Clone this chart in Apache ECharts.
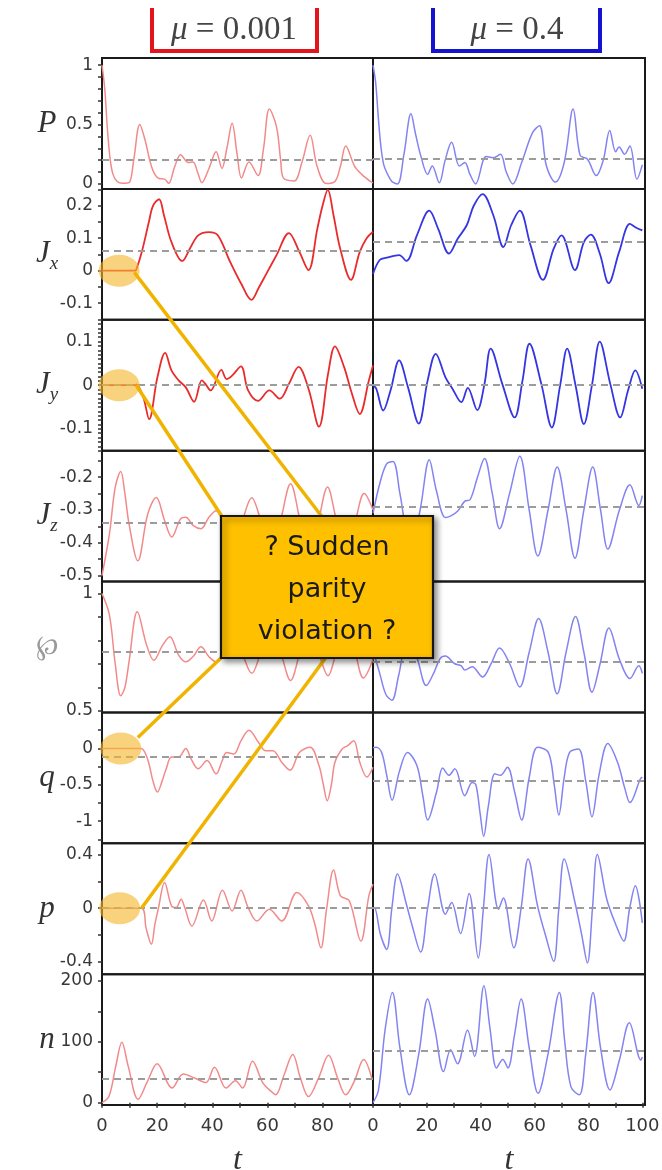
<!DOCTYPE html>
<html><head><meta charset="utf-8">
<script src="https://cdn.jsdelivr.net/npm/echarts@6/dist/echarts.min.js"></script>
<style>html,body{margin:0;padding:0;background:#fff}#c{width:662px;height:1170px}</style>
</head><body><div id="c"></div>
<script>
// ---------- DATA ----------
const panelTitles = ['0.001', '0.4'];
const rowKeys = ['P', 'Jx', 'Jy', 'Jz', 'wp', 'q', 'p', 'n'];
const tMax = [98.3, 101];
const xLabelsLeft = [0, 20, 40, 60, 80];
const xLabelsRight = [0, 20, 40, 60, 80, 100];
const xTicksLeft = [0, 10, 20, 30, 40, 50, 60, 70, 80, 90];
const xTicksRight = [0, 10, 20, 30, 40, 50, 60, 70, 80, 90, 100];

const yRanges = [[-0.042, 1.06], [-0.151, 0.252], [-0.15, 0.15], [-0.518, -0.119],
                 [0.494, 1.051], [-1.304, 0.495], [-0.496, 0.489], [-3.8, 211]];
const yLabelValues = [[0, 0.5, 1], [-0.1, 0, 0.1, 0.2], [-0.1, 0, 0.1], [-0.5, -0.4, -0.3, -0.2],
                      [0.5, 1], [-1, -0.5, 0], [-0.4, 0, 0.4], [0, 100, 200]];
const yTickValues = [
  [0, 0.1, 0.2, 0.3, 0.4, 0.5, 0.6, 0.7, 0.8, 0.9, 1],
  [-0.15, -0.1, -0.05, 0, 0.05, 0.1, 0.15, 0.2, 0.25],
  [-0.15,-0.14,-0.13,-0.12,-0.11,-0.1,-0.09,-0.08,-0.07,-0.06,-0.05,-0.04,-0.03,-0.02,-0.01,0,
   0.01,0.02,0.03,0.04,0.05,0.06,0.07,0.08,0.09,0.1,0.11,0.12,0.13,0.14,0.15],
  [-0.5, -0.45, -0.4, -0.35, -0.3, -0.25, -0.2, -0.15],
  [0.5, 0.6, 0.7, 0.8, 0.9, 1],
  [-1.25, -1, -0.75, -0.5, -0.25, 0, 0.25],
  [-0.4, -0.2, 0, 0.2, 0.4],
  [0, 50, 100, 150, 200]
];

const means_mu0001 = [0.195, 0.056, 0, -0.34, 0.754, -0.114, 0, 39];
const means_mu04   = [0.214, 0.094, 0, -0.287, 0.709, -0.44, 0, 86];

const P_mu0001 = [[0,1],[1,0.8],[2,0.45],[3,0.2],[4,0.08],[5.5,0.02],[7.5,0.005],[9.8,0.01],[11.5,0.2],[13.7,0.5],[15.5,0.38],[18.2,0.13],[20.7,0.045],[22.7,0.04],[24.2,0.005],[26.3,0.14],[28.5,0.245],[31.3,0.18],[33,0.185],[34.8,0.09],[36.2,0.01],[38.8,0.13],[41.4,0.27],[43.5,0.13],[45.3,0.3],[47.2,0.51],[49,0.25],[50.6,0.05],[53.3,0.185],[56.6,0.07],[58.6,0.3],[60.7,0.63],[63.3,0.48],[64.8,0.2],[65.8,0.05],[69.7,0.025],[72.5,0.18],[75.5,0.41],[78,0.15],[81.3,0.003],[84.5,0.02],[86.5,0.15],[88.4,0.32],[91.6,0.15],[94.2,0.08],[97.4,0.02],[98.3,0.01]];
const P_mu04 = [[0,1],[1,0.85],[2,0.55],[3,0.3],[4,0.16],[5.1,0.096],[7,0.02],[9.1,0],[11.5,0.25],[14.1,0.59],[15.8,0.42],[17.7,0.24],[20.3,0.08],[22,0.15],[24.6,0.01],[26.8,0.2],[29.2,0.35],[32.1,0.15],[34.1,0.18],[36,0.08],[38.1,0],[42,0.23],[44.7,0.22],[47.3,0.25],[49.5,0.1],[51.9,0],[55.2,0.18],[59.2,0.43],[61.8,0.49],[64.4,0.15],[67.7,0.015],[71,0.18],[74.3,0.63],[76.9,0.24],[79.6,0.21],[82.9,0.07],[85.5,0.2],[87.9,0.45],[90.1,0.27],[91.4,0.31],[93.4,0.25],[95.4,0.32],[98,0.04],[100,0.16]];

const Jx_mu0001 = [[0,0],[12,0],[12.5,0.005],[14.5,0.06],[17,0.15],[18.5,0.2],[20.7,0.22],[22.5,0.17],[25.2,0.088],[29.1,0.03],[32,0.07],[34.9,0.109],[38.8,0.119],[42,0.109],[46.5,0.027],[50.5,-0.04],[54.2,-0.09],[57,-0.05],[59.4,-0.013],[63.3,0.048],[67.8,0.116],[71.6,0.058],[74.9,0.002],[78.1,0.129],[80,0.2],[81.9,0.249],[84,0.17],[86.4,0.068],[90.3,-0.028],[93.5,0.058],[96,0.1],[98.3,0.12]];
const Jx_mu04 = [[0,-0.01],[2.5,0.033],[5.1,0.04],[9.7,0.048],[12.4,0.03],[16.3,0.109],[20.9,0.185],[24.2,0.129],[28.2,0.053],[31.5,0.099],[34.8,0.14],[37.4,0.2],[40.7,0.236],[44.7,0.17],[48.4,0.073],[51.3,0.14],[54.5,0.185],[58.5,0.078],[63.1,-0.028],[67.1,0.068],[70,0.109],[75,0.002],[78.3,0.088],[80.9,0.111],[84.2,0.053],[87.5,-0.038],[91.4,0.058],[95.4,0.144],[97.4,0.134],[100,0.124]];

const Jy_mu0001 = [[0,0],[12,0],[12.5,0.002],[15,-0.028],[17.1,-0.078],[20.1,0.018],[22.9,0.074],[25.2,0.034],[27.8,0.011],[30.4,-0.005],[33.4,-0.038],[36.2,0.011],[37.5,0.003],[39.4,-0.012],[43.3,0.035],[45.2,0.014],[47.2,0.022],[50.4,0.043],[53,-0.012],[56.6,-0.036],[60.7,-0.012],[64.5,-0.031],[67.8,0.003],[71.3,0.042],[74.9,-0.008],[78.7,-0.095],[82,0.026],[84.5,0.089],[87.8,0.042],[90.3,-0.012],[93.5,-0.066],[96.8,0.011],[98.3,0.045]];
const Jy_mu04 = [[0,0],[1.2,-0.008],[3.8,-0.058],[6.5,-0.012],[9.7,0.057],[13,-0.005],[17,-0.088],[20.3,0.011],[23.3,0.072],[26.9,0.018],[29.5,-0.008],[32.8,-0.039],[35.2,-0.006],[38.7,-0.057],[41.4,0.003],[43.7,0.084],[48,0.003],[52.6,-0.074],[55.5,0.01],[58.1,0.095],[62.5,0.003],[66.4,-0.097],[69.5,0],[72.1,0.084],[75.2,0],[78.3,-0.089],[81.3,0],[84.2,0.1],[88.1,0.003],[91.8,-0.074],[94.7,-0.012],[97.4,0.034],[100,-0.008]];

const Jz_mu0001 = [[0,-0.5],[2.7,-0.373],[4.8,-0.23],[6.8,-0.183],[8.3,-0.25],[9.8,-0.342],[13,-0.455],[16.6,-0.312],[19.7,-0.262],[22.7,-0.332],[25.3,-0.382],[28.5,-0.327],[30.4,-0.322],[33,-0.347],[35.9,-0.357],[38.8,-0.322],[41.4,-0.302],[43.5,-0.33],[47.5,-0.41],[51,-0.33],[54.3,-0.263],[57.5,-0.33],[61,-0.43],[64.8,-0.33],[68.4,-0.22],[71.8,-0.33],[75.2,-0.44],[78.6,-0.33],[81.8,-0.23],[85,-0.33],[88.5,-0.43],[92,-0.33],[95.1,-0.25],[98.3,-0.3]];
const Jz_mu04 = [[0,-0.31],[2.5,-0.22],[5,-0.16],[7.4,-0.152],[10,-0.25],[14,-0.42],[17.5,-0.3],[20.9,-0.147],[23.5,-0.24],[26.9,-0.323],[28.9,-0.318],[31.5,-0.303],[34.1,-0.273],[36.1,-0.268],[38.8,-0.2],[41.4,-0.143],[44.3,-0.25],[47,-0.357],[50.7,-0.25],[54.5,-0.136],[58,-0.3],[61.2,-0.44],[65,-0.3],[68.4,-0.169],[71.7,-0.3],[75,-0.447],[78.3,-0.3],[81.6,-0.169],[84.5,-0.3],[87.2,-0.419],[91.5,-0.3],[95.4,-0.223],[98.7,-0.286],[100,-0.256]];

const wp_mu0001 = [[0,1],[2.7,0.908],[4.8,0.7],[6.8,0.565],[8.3,0.6],[9.8,0.709],[12.8,0.922],[16.2,0.78],[18.8,0.716],[22,0.78],[24.6,0.816],[27.8,0.738],[30.4,0.709],[33,0.731],[35.9,0.773],[38.8,0.731],[41.4,0.709],[44,0.75],[47.5,0.82],[51,0.74],[54.3,0.66],[57.6,0.75],[61,0.86],[64.8,0.75],[68.4,0.63],[71.8,0.75],[75.2,0.87],[78.6,0.75],[82,0.65],[85,0.75],[88.5,0.86],[91.8,0.75],[94.8,0.64],[98.3,0.72]];
const wp_mu04 = [[0,0.76],[2.5,0.66],[4.8,0.57],[7,0.546],[9.5,0.65],[13,0.82],[16.5,0.72],[19.8,0.608],[22.5,0.66],[24.9,0.723],[26.9,0.734],[30.2,0.702],[32.8,0.692],[34.1,0.674],[36.8,0.688],[40.7,0.645],[43.8,0.7],[47,0.768],[50.8,0.7],[54.5,0.602],[58,0.75],[61.5,0.893],[65,0.75],[68.4,0.573],[71.7,0.75],[75.2,0.902],[78.3,0.75],[81.3,0.58],[84.3,0.7],[87.6,0.853],[91.5,0.72],[95.4,0.638],[98.7,0.692],[100,0.66]];

const q_mu0001 = [[0,0],[14.3,0],[15.5,-0.05],[16.9,-0.19],[18.5,-0.45],[20.1,-0.6],[21.8,-0.45],[23.3,-0.28],[25.2,-0.12],[27.8,-0.12],[30.4,0],[32.3,-0.145],[34.9,-0.28],[38.1,-0.168],[41.4,-0.35],[43.5,-0.18],[45.2,-0.055],[47.8,-0.077],[50.4,0.104],[53.3,0.25],[56.8,0.082],[59.4,-0.032],[62,-0.032],[65.2,-0.19],[68.2,-0.3],[71.6,-0.055],[75.5,0.014],[78.7,-0.236],[80.3,-0.5],[81.7,-0.72],[83.2,-0.5],[84.5,-0.19],[87.1,-0.009],[89,0.036],[91.3,0.104],[93.5,-0.19],[96.1,-0.395],[98.3,-0.26]];
const q_mu04 = [[0,0.01],[1.2,0.014],[3.2,-0.055],[5.1,-0.37],[7.1,-0.713],[9.7,-0.33],[12.8,-0.055],[16.3,-0.236],[18.5,-0.65],[20.3,-0.985],[23.6,-0.6],[25.9,-0.27],[28.2,-0.37],[30.4,-0.28],[34.1,-0.65],[36.8,-0.47],[38.2,-0.5],[39.8,-0.9],[41.1,-1.21],[42.8,-0.8],[45.3,-0.35],[47.3,-0.37],[49.9,-0.26],[52.6,-0.6],[55.2,-0.985],[58,-0.4],[61.1,0.014],[65.1,-0.055],[67.3,-0.5],[69,-0.917],[71,-0.4],[73,-0.055],[76.3,-0.009],[79,-0.45],[81.3,-0.94],[84,-0.35],[87.2,0.068],[90.8,-0.19],[93.5,-0.55],[95.4,-0.745],[99.3,-0.418],[100,-0.395]];

const p_mu0001 = [[0,0],[14.3,0],[16,-0.15],[17.9,-0.272],[19.2,-0.12],[20.5,0.005],[22.7,0.194],[25.2,0.018],[26.9,0.005],[28.7,0.068],[30,0.005],[32.6,-0.134],[36.8,0.061],[39.8,-0.096],[43.7,0.136],[47.2,-0.02],[50.4,0.136],[53,0.005],[56.2,-0.096],[60.7,-0.008],[65.2,-0.096],[70.7,0.119],[74.9,0.018],[77.2,-0.12],[79.4,-0.298],[81.5,0],[84,0.288],[86.5,0.093],[89.7,0.056],[93.9,-0.247],[96.8,0.093],[98.3,0.18]];
const p_mu04 = [[0,0],[0.5,0.005],[2.8,-0.2],[5.1,-0.31],[7,0],[9.1,0.257],[12.4,0.03],[14.4,-0.12],[17.7,-0.33],[20.3,0],[22.9,0.257],[26.9,-0.045],[29.2,0.043],[32.5,-0.19],[35.7,0.111],[39.1,-0.374],[41,0],[43.1,0.404],[46.6,-0.008],[48.4,0.076],[52.3,-0.298],[55,0],[57.6,0.371],[61.1,0.018],[64,-0.2],[67.1,-0.4],[69,0],[71,0.371],[75,0.043],[77.5,-0.2],[79.6,-0.412],[81.5,0],[83.3,0.404],[86.8,0.068],[90.1,-0.12],[93.1,-0.247],[95.3,0],[97.4,0.17],[100,-0.11]];

const n_mu0001 = [[0,0],[2.5,10],[5,60],[7.2,99],[9.5,60],[13.1,5.6],[16.5,35],[20,64],[25.4,24],[29.5,47],[33.8,40],[37.7,33],[40.8,58],[45,24],[48.4,36],[51,24],[54.6,68],[58.4,32],[61.5,18],[63,13],[66,45],[69.2,79],[72,40],[74.9,10],[78.5,40],[82.2,78],[85.5,40],[88.4,13],[91.5,35],[94.9,71],[97.9,40]];
const n_mu04 = [[0,0],[2,20],[4.5,120],[7.2,181],[10,90],[13.5,13],[17,80],[20.3,170],[23,120],[26.2,51],[28.8,87],[31.4,64],[35.1,119],[37.7,76],[41.2,192],[43.5,120],[45.9,57],[48.2,71],[50.1,57],[52.5,110],[55,170],[58,90],[61.3,15.5],[65,80],[69.2,181],[71.2,100],[73.5,26],[76.6,13],[79,80],[81.7,181],[84.5,90],[88,21],[91.5,70],[95.2,131],[99.5,70],[100,75]];

const seriesLeft = [P_mu0001, Jx_mu0001, Jy_mu0001, Jz_mu0001, wp_mu0001, q_mu0001, p_mu0001, n_mu0001];
const seriesRight = [P_mu04, Jx_mu04, Jy_mu04, Jz_mu04, wp_mu04, q_mu04, p_mu04, n_mu04];

// annotation anchors (data coords in left panels): row index, circle centre t, line start [t, v]
const markRows = [1, 2, 5, 6];
const markCircleT = [6.2, 6.2, 6.8, 6.4];
const markLineStart = [[11.7, -0.005], [12.4, 0], [13, 0.15], [14.3, 0]];
const annotationText = ['? Sudden', 'parity', 'violation ?'];

// ---------- LAYOUT ----------
const L = 102, M = 373, R = 645, TOP = 58, ROWH = (1105 - 58) / 8;
const grids = [], xAxes = [], yAxes = [], series = [];
const tickFont = { fontFamily: 'DejaVu Sans', fontSize: 17, color: '#383838' };

for (let r = 0; r < 8; r++) {
  for (let c = 0; c < 2; c++) {
    const g = r * 2 + c;
    grids.push({ left: c ? M : L, top: TOP + r * ROWH, width: c ? (R - M) : (M - L), height: ROWH,
                 containLabel: false, outerBoundsMode: 'none',
                 show: true, borderColor: '#1a1a1a', borderWidth: 2, backgroundColor: 'transparent' });
    const bottom = r === 7;
    xAxes.push({
      type: 'value', gridIndex: g, min: 0, max: tMax[c],
      show: bottom,
      axisLine: { show: false },
      splitLine: { show: false },
      axisTick: { show: true, inside: false, length: 5, lineStyle: { color: '#333', width: 1.5 },
                  customValues: c ? xTicksRight : xTicksLeft },
      axisLabel: { ...tickFont, fontSize: 18, margin: 12, customValues: c ? xLabelsRight : xLabelsLeft },
      name: bottom ? 't' : '', nameLocation: 'middle', nameGap: 40,
      nameTextStyle: { fontFamily: 'Liberation Serif', fontStyle: 'italic', fontSize: 32, color: '#333' }
    });
    yAxes.push({
      type: 'value', gridIndex: g, min: yRanges[r][0], max: yRanges[r][1],
      show: c === 0,
      axisLine: { show: false },
      splitLine: { show: false },
      axisTick: { show: true, inside: false, length: 4, lineStyle: { color: '#333', width: 1.5 },
                  customValues: yTickValues[r] },
      axisLabel: { ...tickFont, margin: 9, customValues: yLabelValues[r] }
    });
    const strong = (r === 1 || r === 2);
    const color = c === 0 ? (strong ? '#ea2b2b' : '#f28a8a') : (strong ? '#3535e2' : '#8383f2');
    series.push({
      type: 'line', xAxisIndex: g, yAxisIndex: g,
      data: (c ? seriesRight : seriesLeft)[r],
      showSymbol: false, smooth: 0.35, silent: true,
      lineStyle: { color, width: strong ? 1.8 : 1.5 },
      markLine: {
        silent: true, symbol: 'none', label: { show: false }, animation: false,
        lineStyle: { type: [7, 5], color: '#9c9c9c', width: 2.2 },
        data: [{ yAxis: (c ? means_mu04 : means_mu0001)[r] }]
      },
      z: 3
    });
  }
}

const chart = echarts.init(document.getElementById('c'), null, { renderer: 'canvas' });
chart.setOption({
  animation: false,
  backgroundColor: '#fff',
  grid: grids, xAxis: xAxes, yAxis: yAxes, series
});

// ---------- ANNOTATIONS ----------
const px = (g, pt) => chart.convertToPixel({ xAxisIndex: g, yAxisIndex: g }, pt);
const graphics = [];

// column titles with brackets
const titleX = [234, 517];
const bracketX = [[152, 317], [433, 600]];
const bracketColor = ['#e3141b', '#1414d0'];
for (let c = 0; c < 2; c++) {
  graphics.push({
    type: 'polyline', z: 50,
    shape: { points: [[bracketX[c][0], 8], [bracketX[c][0], 51], [bracketX[c][1], 51], [bracketX[c][1], 8]] },
    style: { stroke: bracketColor[c], lineWidth: 4, fill: null }
  });
  graphics.push({
    type: 'text', z: 50,
    style: {
      text: '{m|μ}{r| = ' + panelTitles[c] + '}', x: titleX[c], y: 30, align: 'center', verticalAlign: 'middle',
      rich: {
        m: { fontFamily: 'Liberation Serif', fontStyle: 'italic', fontSize: 33, fill: '#444' },
        r: { fontFamily: 'Liberation Serif', fontSize: 33, fill: '#444' }
      }
    }
  });
}

// row labels
const rowLabelRich = {
  v: { fontFamily: 'Liberation Serif', fontStyle: 'italic', fontSize: 31, fill: '#333', lineHeight: 38 },
  s: { fontFamily: 'Liberation Serif', fontStyle: 'italic', fontSize: 19, fill: '#333', lineHeight: 20, verticalAlign: 'bottom' },
  w: { fontFamily: 'DejaVu Serif', fontSize: 27, fill: '#9a9a9a', lineHeight: 38 }
};
const rowLabelText = ['{v|P}', '{v|J}{s|x}', '{v|J}{s|y}', '{v|J}{s|z}', '{w|℘}', '{v|q}', '{v|p}', '{v|n}'];
for (let r = 0; r < 8; r++) {
  graphics.push({
    type: 'text', z: 50,
    style: { text: rowLabelText[r], x: 47, y: TOP + (r + 0.5) * ROWH, align: 'center', verticalAlign: 'middle', rich: rowLabelRich }
  });
}

// box geometry
const box = { x: 221, y: 516, w: 212, h: 142 };
const lineEnds = [[323, box.y + 2], [box.x + 2, box.y + 2], [box.x + 2, box.y + box.h - 2], [327, box.y + box.h - 2]];

for (let i = 0; i < markRows.length; i++) {
  const g = markRows[i] * 2;
  const cpt = px(g, [markCircleT[i], 0]);
  graphics.push({
    type: 'ellipse', z: 60,
    shape: { cx: cpt[0], cy: cpt[1], rx: 20.5, ry: 16 },
    style: { fill: 'rgba(245,182,45,0.62)' }
  });
  const s = px(g, markLineStart[i]);
  graphics.push({
    type: 'line', z: 61,
    shape: { x1: s[0], y1: s[1], x2: lineEnds[i][0], y2: lineEnds[i][1] },
    style: { stroke: '#f0b400', lineWidth: 3.5 }
  });
}

graphics.push({
  type: 'rect', z: 70,
  shape: { x: box.x, y: box.y, width: box.w, height: box.h },
  style: { fill: '#ffc000', stroke: '#151515', lineWidth: 2.2,
           shadowBlur: 6, shadowOffsetX: 3, shadowOffsetY: 3, shadowColor: 'rgba(0,0,0,0.45)' }
});
graphics.push({
  type: 'text', z: 71,
  style: {
    text: annotationText.join('\n'), x: box.x + box.w / 2, y: box.y + box.h / 2 + 3,
    align: 'center', verticalAlign: 'middle',
    fontFamily: 'DejaVu Sans', fontSize: 27, lineHeight: 42, fill: '#1a1a1a'
  }
});

chart.setOption({ graphic: graphics });
</script></body></html>
